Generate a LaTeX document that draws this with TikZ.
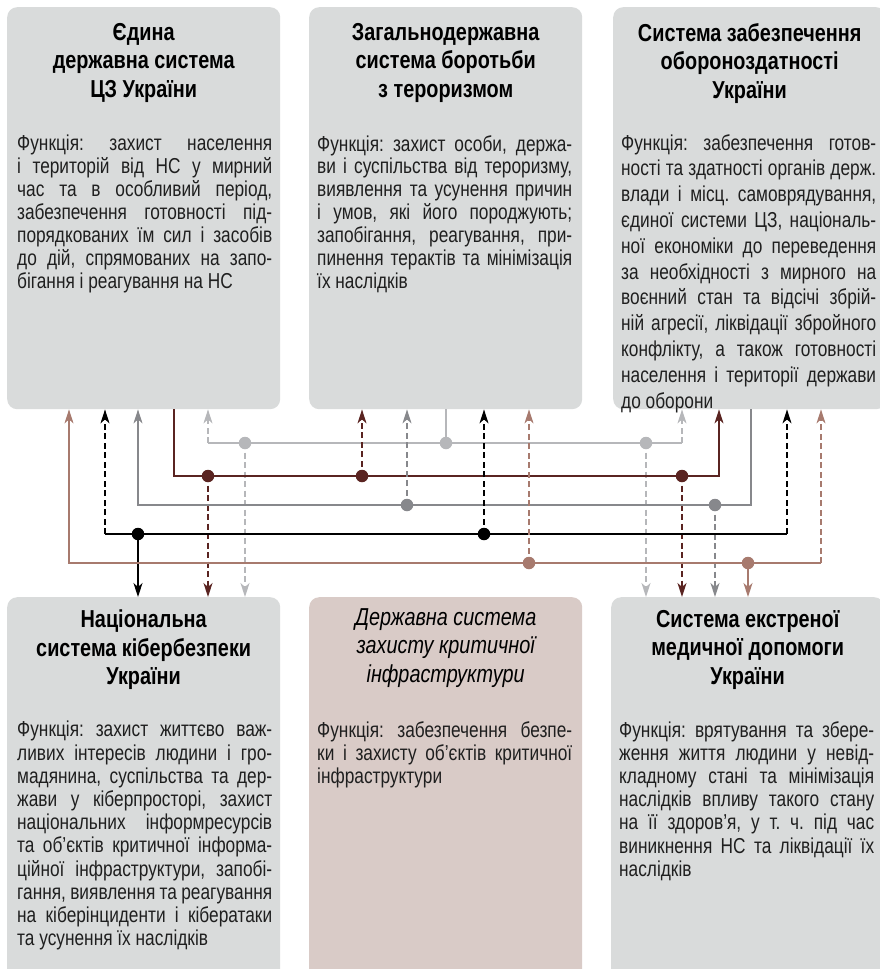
\documentclass[tikz,border=0pt]{standalone}
\usepackage{fontspec}
\setmainfont{Liberation Sans}[FakeStretch=0.80]
\newfontfamily\headfont{Liberation Sans}[FakeStretch=0.81]
\usepackage{xcolor}
\usetikzlibrary{arrows.meta,positioning,calc}
\frenchspacing

\definecolor{boxgray}{HTML}{D9DBDB}
\definecolor{boxpink}{HTML}{D9CBC7}
\definecolor{lbrown}{HTML}{A77A6E}
\definecolor{dred}{HTML}{5A2421}
\definecolor{mgray}{HTML}{87888C}
\definecolor{lgray}{HTML}{B6B7BA}

\tikzset{
  sysbox/.style={fill=boxgray, rounded corners=10pt, anchor=north west,
    inner sep=0pt, minimum width=273pt, minimum height=402pt},
  systitle/.style={font=\headfont\bfseries\fontsize{24.5}{28.5}\selectfont,
    align=center, inner sep=0pt},
  sysbody/.style={font=\fontsize{21.6}{22.9}\selectfont, text=black!88,
    text width=255pt, align=justify, inner sep=0pt},
  link/.style={line width=1.4pt},
  linkhead/.style={-{Stealth[length=14pt, width=9pt, inset=4pt]}},
  dsh/.style={dash pattern=on 6pt off 3.5pt},
  jdot/.style={circle, fill=#1, inner sep=0pt, minimum size=12.5pt}
}

\begin{document}
\begin{tikzpicture}[x=1pt, y=-1pt]
  \useasboundingbox (0,0) rectangle (879,969);

  % Boxes
  \node[sysbox] (topA) at (7,7) {};
  \node[sysbox] (topB) at (309,7) {};
  \node[sysbox] (topC) at (613,7) {};
  \node[sysbox, minimum height=400pt] (botA) at (7,597) {};
  \node[sysbox, minimum height=400pt, fill=boxpink] (botB) at (309,597) {};
  \node[sysbox, minimum height=400pt] (botC) at (611,597) {};

  % Titles
  \node[systitle, below=16pt of topA.north] (topAt) {Єдина\\державна система\\ЦЗ України};
  \node[systitle, below=16pt of topB.north] (topBt) {Загальнодержавна\\система боротьби\\з тероризмом};
  \node[systitle, below=16pt of topC.north] (topCt) {Система забезпечення\\обороноздатності\\України};
  \node[systitle, below=13pt of botA.north] (botAt) {Національна\\система кібербезпеки\\України};
  \node[systitle, font=\headfont\itshape\fontsize{24.5}{28.5}\selectfont,
    below=11pt of botB.north] (botBt) {Державна система\\захисту критичної\\інфраструктури};
  \node[systitle, below=13pt of botC.north] (botCt) {Система екстреної\\медичної допомоги\\України};

  % Functions
  \node[sysbody, below right=128pt and 10pt of topA.north west] (topAb) {Функція: захист населення
    \linebreak і територій від НС у мирний\linebreak час та в особливий період,
    \linebreak забезпечення готовності під-\linebreak порядкованих їм сил і засобів
    \linebreak до дій, спрямованих на запо-\linebreak бігання і реагування на НС};
  \node[sysbody, below right=128pt and 8pt of topB.north west] (topBb) {Функція: захист особи, держа-\linebreak
    ви і суспільства від тероризму,\linebreak виявлення та усунення причин\linebreak
    і умов, які його породжують;\linebreak запобігання, реагування, при-\linebreak
    пинення терактів та мінімізація\linebreak їх наслідків};
  \node[sysbody, font=\fontsize{21.6}{25.8}\selectfont,
    below right=127pt and 8pt of topC.north west] (topCb) {Функція: забезпечення готов-\linebreak
    ності та здатності органів держ.\linebreak влади і місц. самоврядування,\linebreak
    єдиної системи ЦЗ, національ-\linebreak ної економіки до переведення\linebreak
    за необхідності з мирного на\linebreak воєнний стан та відсічі збрій-\linebreak
    ній агресії, ліквідації збройного\linebreak конфлікту, а також готовності\linebreak
    населення і території держави\linebreak до оборони};
  \node[sysbody, font=\fontsize{21.6}{23.2}\selectfont,
    below right=124pt and 10pt of botA.north west] (botAb) {Функція: захист життєво важ-\linebreak
    ливих інтересів людини і гро-\linebreak мадянина, суспільства та дер-\linebreak
    жави у кіберпросторі, захист\linebreak національних інформресурсів\linebreak
    та об’єктів критичної інформа-\linebreak ційної інфраструктури, запобі-\linebreak
    гання, виявлення та реагування\linebreak на кіберінциденти і кібератаки\linebreak
    та усунення їх наслідків};
  \node[sysbody, font=\fontsize{21.6}{23.2}\selectfont,
    below right=124pt and 8pt of botB.north west] (botBb) {Функція: забезпечення безпе-\linebreak
    ки і захисту об’єктів критичної\linebreak інфраструктури};
  \node[sysbody, font=\fontsize{21.6}{23.2}\selectfont,
    below right=124pt and 8pt of botC.north west] (botCb) {Функція: врятування та збере-\linebreak
    ження життя людини у невід-\linebreak кладному стані та мінімізація\linebreak
    наслідків впливу такого стану\linebreak на її здоров’я, у т. ч. під час\linebreak
    виникнення НС та ліквідації їх\linebreak наслідків};

  % Junctions
  \coordinate (lgL) at (208,443);  \coordinate (lgR) at (682,443);
  \coordinate (lgS) at (446,443);  \coordinate (lg1) at (245,443);
  \coordinate (lg2) at (646,443);
  \coordinate (drL) at (174,476);  \coordinate (drR) at (719,476);
  \coordinate (dr1) at (208,476);  \coordinate (dr2) at (362,476);
  \coordinate (dr3) at (682,476);
  \coordinate (mgL) at (138,505);  \coordinate (mgR) at (751,505);
  \coordinate (mg1) at (407,505);  \coordinate (mg2) at (715,505);
  \coordinate (bkL) at (105,534);  \coordinate (bkR) at (787,534);
  \coordinate (bk1) at (138,534);  \coordinate (bk2) at (484,534);
  \coordinate (lbL) at (69,563);   \coordinate (lbR) at (821,563);
  \coordinate (lb1) at (529,563);  \coordinate (lb2) at (748,563);

  % Light gray line
  \draw[link, lgray] (lgS |- topB.south) -- (lgS);
  \draw[link, lgray] (lgL) -- (lgR);
  \draw[link, lgray, dsh, linkhead] (lgL) -- (lgL |- topA.south);
  \draw[link, lgray, dsh, linkhead] (lgR) -- (lgR |- topC.south);
  \draw[link, lgray, dsh, linkhead] (lg1) -- (lg1 |- botA.north);
  \draw[link, lgray, dsh, linkhead] (lg2) -- (lg2 |- botC.north);

  % Dark red line
  \draw[link, dred, linkhead] (drL |- topA.south) -- (drL) -- (drR) -- (drR |- topC.south);
  \draw[link, dred, dsh, linkhead] (dr1) -- (dr1 |- botA.north);
  \draw[link, dred, dsh, linkhead] (dr2) -- (dr2 |- topB.south);
  \draw[link, dred, dsh, linkhead] (dr3) -- (dr3 |- botC.north);

  % Mid gray line
  \draw[link, mgray, linkhead] (mgR |- topC.south) -- (mgR) -- (mgL) -- (mgL |- topA.south);
  \draw[link, mgray, dsh, linkhead] (mg1) -- (mg1 |- topB.south);
  \draw[link, mgray, dsh, linkhead] (mg2) -- (mg2 |- botC.north);

  % Black line
  \draw[link, black] (bkL) -- (bkR);
  \draw[link, black, dsh, linkhead] (bkL) -- (bkL |- topA.south);
  \draw[link, black, dsh, linkhead] (bkR) -- (bkR |- topC.south);
  \draw[link, black, dsh, linkhead] (bk2) -- (bk2 |- topB.south);
  \draw[link, black, linkhead] (bk1) -- (bk1 |- botA.north);

  % Light brown line
  \draw[link, lbrown, linkhead] (lbR) -- (lbL) -- (lbL |- topA.south);
  \draw[link, lbrown, dsh, linkhead] (lbR) -- (lbR |- topC.south);
  \draw[link, lbrown, dsh, linkhead] (lb1) -- (lb1 |- topB.south);
  \draw[link, lbrown, linkhead] (lb2) -- (lb2 |- botC.north);

  % Dots
  \foreach \p/\c in {lgS/lgray, lg1/lgray, lg2/lgray, dr1/dred, dr2/dred, dr3/dred,
      mg1/mgray, mg2/mgray, bk1/black, bk2/black, lb1/lbrown, lb2/lbrown}
    \node[jdot=\c] (\p-dot) at (\p) {};
\end{tikzpicture}
\end{document}
